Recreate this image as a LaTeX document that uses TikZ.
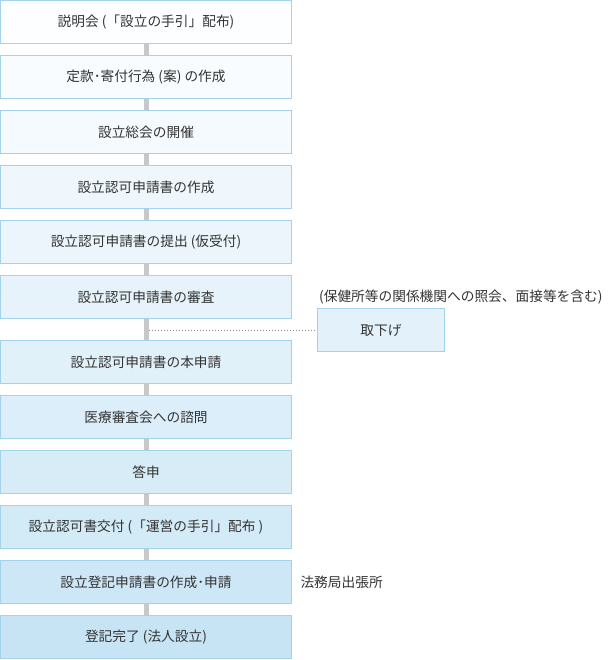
\documentclass[tikz,border=0pt]{standalone}
\usepackage{fontspec}
\setmainfont{Noto Sans CJK JP}
\usetikzlibrary{positioning}
\definecolor{stepline}{RGB}{163,210,236}
\definecolor{stepfill}{RGB}{199,228,245}
\definecolor{linkgray}{RGB}{200,200,200}
\definecolor{txtgray}{RGB}{51,51,51}

\begin{document}
\begin{tikzpicture}[x=1pt, y=-1pt, every node/.style={font=\fontsize{13.7}{15}\selectfont, text=txtgray}, stepbox/.style={draw=stepline, line width=1pt, minimum width=291pt, minimum height=43pt, inner sep=0pt}, link/.style={draw=linkgray, line width=5pt}]
	\useasboundingbox (0,0) rectangle (610,660);
	% steps
	\node[stepbox, fill=stepfill!3] (b1) at (146,22) {説明会 (「設立の手引」配布)};
	\node[stepbox, fill=stepfill!12] (b2) at (146,77) {定款･寄付行為 (案) の作成};
	\node[stepbox, fill=stepfill!20] (b3) at (146,132) {設立総会の開催};
	\node[stepbox, fill=stepfill!28] (b4) at (146,187) {設立認可申請書の作成};
	\node[stepbox, fill=stepfill!36] (b5) at (146,242) {設立認可申請書の提出 (仮受付)};
	\node[stepbox, fill=stepfill!45] (b6) at (146,297) {設立認可申請書の審査};
	\node[stepbox, fill=stepfill!53] (b7) at (146,362) {設立認可申請書の本申請};
	\node[stepbox, fill=stepfill!62] (b8) at (146,417) {医療審査会への諮問};
	\node[stepbox, fill=stepfill!70] (b9) at (146,472) {答申};
	\node[stepbox, fill=stepfill!79] (b10) at (146,527) {設立認可書交付 (「運営の手引」配布 )};
	\node[stepbox, fill=stepfill!88] (b11) at (146,582) {設立登記申請書の作成･申請};
	\node[stepbox, fill=stepfill] (b12) at (146,637) {登記完了 (法人設立)};
	% side notes
	\node[stepbox, fill=stepfill!50, minimum width=127pt] (tk) at (381,330) {取下げ};
	\node[anchor=east] (note) at (606,297) {(保健所等の関係機関への照会、面接等を含む)};
	\node[right=5pt of b11] (office) {法務局出張所};
	\draw[gray!90, line width=1pt, dash pattern=on 1pt off 2pt] (b6.south |- tk.west) -- (tk.west);
	\foreach \a/\b in {1/2,2/3,3/4,4/5,5/6,6/7,7/8,8/9,9/10,10/11,11/12}
		\draw[link] (b\a.south) -- (b\b.north);
\end{tikzpicture}
\end{document}
